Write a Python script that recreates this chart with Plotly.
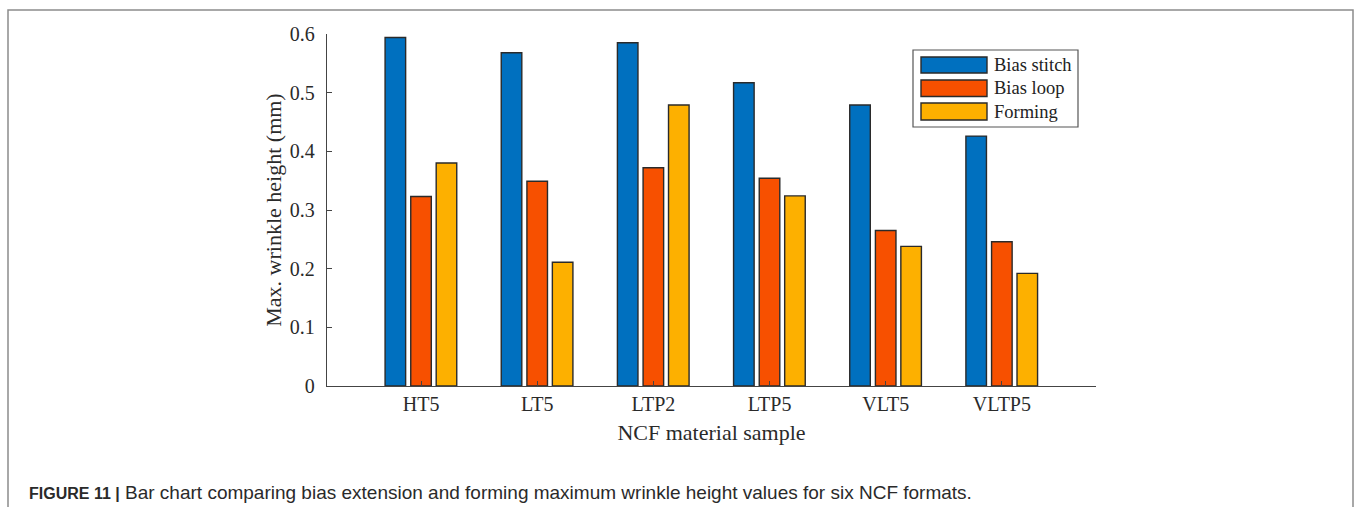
import plotly.graph_objects as go

# Samples and measured maximum wrinkle heights (mm)
samples = ["HT5", "LT5", "LTP2", "LTP5", "VLT5", "VLTP5"]
bias_stitch = [0.594, 0.568, 0.585, 0.517, 0.479, 0.426]
bias_loop = [0.323, 0.349, 0.372, 0.354, 0.265, 0.246]
forming = [0.380, 0.211, 0.479, 0.324, 0.238, 0.192]

series_names = ["Bias stitch", "Bias loop", "Forming"]
series_colors = ["#0070BF", "#F75000", "#FDB000"]
y_ticks = [0, 0.1, 0.2, 0.3, 0.4, 0.5, 0.6]
y_tick_text = ["0", "0.1", "0.2", "0.3", "0.4", "0.5", "0.6"]

W, H = 1356, 507
L, R, T, B = 327, 260, 34, 121
PW, PH = W - L - R, H - T - B


def px(x):
    return (x - L) / PW


def py(y):
    return (H - B - y) / PH


serif = "Liberation Serif, Times New Roman, serif"
edge = "#2a2a2a"
bar_w = 0.177
offsets = [-0.31, -0.089, 0.13]

fig = go.Figure()
for name, vals, col, off in zip(series_names, [bias_stitch, bias_loop, forming], series_colors, offsets):
    fig.add_trace(go.Bar(
        x=list(range(len(samples))), y=vals, name=name,
        width=bar_w, offset=off,
        marker=dict(color=col, line=dict(color=edge, width=1.4)),
        showlegend=False,
    ))

shapes = []
annotations = []

# Outer frame around the figure panel
shapes.append(dict(type="rect", xref="paper", yref="paper",
                   x0=px(8), x1=px(1353), y0=py(560), y1=py(10),
                   line=dict(color="#8c8c8c", width=1.5), fillcolor="rgba(0,0,0,0)",
                   layer="below"))

# Legend box with swatches
shapes.append(dict(type="rect", xref="paper", yref="paper",
                   x0=px(913), x1=px(1078), y0=py(127), y1=py(50),
                   line=dict(color="#555555", width=1.2), fillcolor="white"))
rows = [(57, 73), (80, 96.5), (103, 120)]
for (y0, y1), name, col in zip(rows, series_names, series_colors):
    shapes.append(dict(type="rect", xref="paper", yref="paper",
                       x0=px(921), x1=px(987), y0=py(y1), y1=py(y0),
                       line=dict(color=edge, width=1.4), fillcolor=col))
    annotations.append(dict(xref="paper", yref="paper", x=px(992), y=py((y0 + y1) / 2),
                            text=name, showarrow=False, xanchor="left", yanchor="middle",
                            font=dict(family=serif, size=18.5, color="#222222")))

# Caption
annotations.append(dict(
    xref="paper", yref="paper", x=px(27), y=py(492),
    text="<b><span style='font-size:16px'>FIGURE 11 |</span></b> Bar chart comparing bias extension and forming maximum wrinkle height values for six NCF formats.",
    showarrow=False, xanchor="left", yanchor="middle",
    font=dict(family="Liberation Sans, Arial, sans-serif", size=19, color="#2a2a2a")))

fig.update_layout(
    width=W, height=H,
    margin=dict(l=L, r=R, t=T, b=B, pad=0),
    paper_bgcolor="white", plot_bgcolor="white",
    barmode="overlay",
    shapes=shapes, annotations=annotations,
    xaxis=dict(
        range=[-0.81, 5.81], tickvals=list(range(len(samples))), ticktext=samples,
        showline=True, linecolor="#444444", linewidth=1.3,
        ticks="inside", ticklen=5, tickcolor="#444444", tickwidth=1,
        showgrid=False, zeroline=False,
        tickfont=dict(family=serif, size=20, color="#2a2a2a"),
        title=dict(text="NCF material sample", standoff=10,
                   font=dict(family=serif, size=22, color="#2a2a2a")),
    ),
    yaxis=dict(
        range=[0, 0.6], tickvals=y_ticks, ticktext=y_tick_text,
        showline=True, linecolor="#444444", linewidth=1.3,
        ticks="inside", ticklen=5, tickcolor="#444444", tickwidth=1,
        showgrid=False, zeroline=False,
        tickfont=dict(family=serif, size=20, color="#2a2a2a"),
        ticklabelstandoff=7,
        title=dict(text="Max. wrinkle height (mm)", standoff=2,
                   font=dict(family=serif, size=22, color="#2a2a2a")),
    ),
)

fig.write_html("out.html")
